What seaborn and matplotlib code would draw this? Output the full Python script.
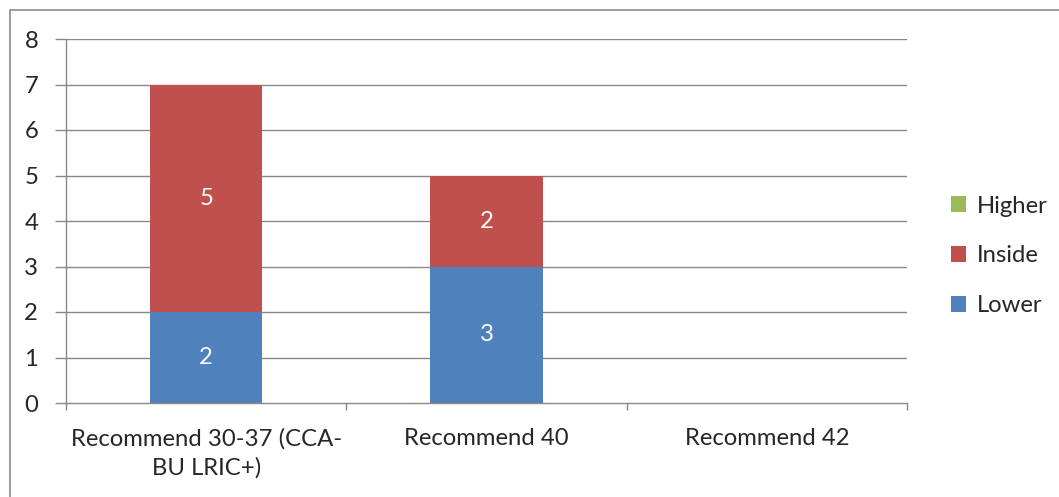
import matplotlib
matplotlib.use("Agg")
import matplotlib.pyplot as plt
from matplotlib.patches import Patch
from matplotlib.lines import Line2D
import seaborn as sns
import pandas as pd
import numpy as np

categories = ["Recommend 30-37 (CCA-\nBU LRIC+)", "Recommend 40", "Recommend 42"]
lower = [2, 3, 0]
inside = [5, 2, 0]
higher = [0, 0, 0]
series_names = ["Higher", "Inside", "Lower"]
colors = {"Higher": "#9BBB59", "Inside": "#C0504D", "Lower": "#4F81BD"}
yticks = [0, 1, 2, 3, 4, 5, 6, 7, 8]

sns.set_style("white")
plt.rcParams['font.family'] = ['Lato', 'DejaVu Sans']
FS = 17.2

lower_a = np.array(lower)
inside_top = lower_a + np.array(inside)
higher_top = inside_top + np.array(higher)

df = pd.DataFrame({"cat": categories, "Lower": lower_a,
                   "Inside": inside_top, "Higher": higher_top})

fig = plt.figure(figsize=(10.59, 4.97), dpi=100)
ax = fig.add_axes([66/1059, 1-403/497, (907-66)/1059, (403-39)/497])

grid_c = "#888888"
for y in yticks[1:]:
    ax.axhline(y, color=grid_c, lw=1.0, zorder=0)

for name in ["Higher", "Inside", "Lower"]:
    sns.barplot(data=df, x="cat", y=name, color=colors[name], width=0.4,
                saturation=1, ax=ax, zorder=2, linewidth=0, order=categories)

# data labels
for i in range(len(categories)):
    if lower[i] > 0:
        ax.text(i, lower[i] / 2, str(lower[i]), ha="center", va="center",
                color="white", fontsize=FS, zorder=3)
    if inside[i] > 0:
        ax.text(i, lower[i] + inside[i] / 2, str(inside[i]), ha="center",
                va="center", color="white", fontsize=FS, zorder=3)

ax.set_xlim(-0.5, 2.5)
ax.set_ylim(0, 8)
ax.set_yticks(yticks)
ax.set_xlabel("")
ax.set_ylabel("")
ax.set_xticks(range(len(categories)))
ax.set_xticklabels(categories, fontsize=FS, linespacing=1.42)
ax.set_xticks([-0.5, 0.5, 1.5, 2.5], minor=True)
ax.tick_params(axis="x", which="major", length=0, pad=18)
ax.tick_params(axis="x", which="minor", length=5, width=1, color=grid_c, direction="out")
ax.tick_params(axis="y", length=8, width=1, color=grid_c, direction="out",
               labelsize=FS, pad=12)
ax.tick_params(axis="x", which="minor", bottom=True)
ax.tick_params(axis="y", left=True)
for s in ["top", "right"]:
    ax.spines[s].set_visible(False)
for s in ["left", "bottom"]:
    ax.spines[s].set_color(grid_c)
    ax.spines[s].set_linewidth(1.0)

handles = [Patch(facecolor=colors[n], edgecolor="none", label=n) for n in series_names]
fig.legend(handles=handles, loc="center left", bbox_to_anchor=(929/1059, 1-256/497),
           frameon=False, fontsize=FS, labelspacing=1.2, handlelength=0.65,
           handleheight=0.65, handletextpad=0.45)

# chart area border (left and top visible)
fig.add_artist(Line2D([10/1059, 10/1059], [0, 1-10/497], color="#8c8c8c", lw=1.2,
                      transform=fig.transFigure))
fig.add_artist(Line2D([10/1059, 1], [1-10/497, 1-10/497], color="#8c8c8c", lw=1.2,
                      transform=fig.transFigure))

fig.savefig("out.png", dpi=100)
